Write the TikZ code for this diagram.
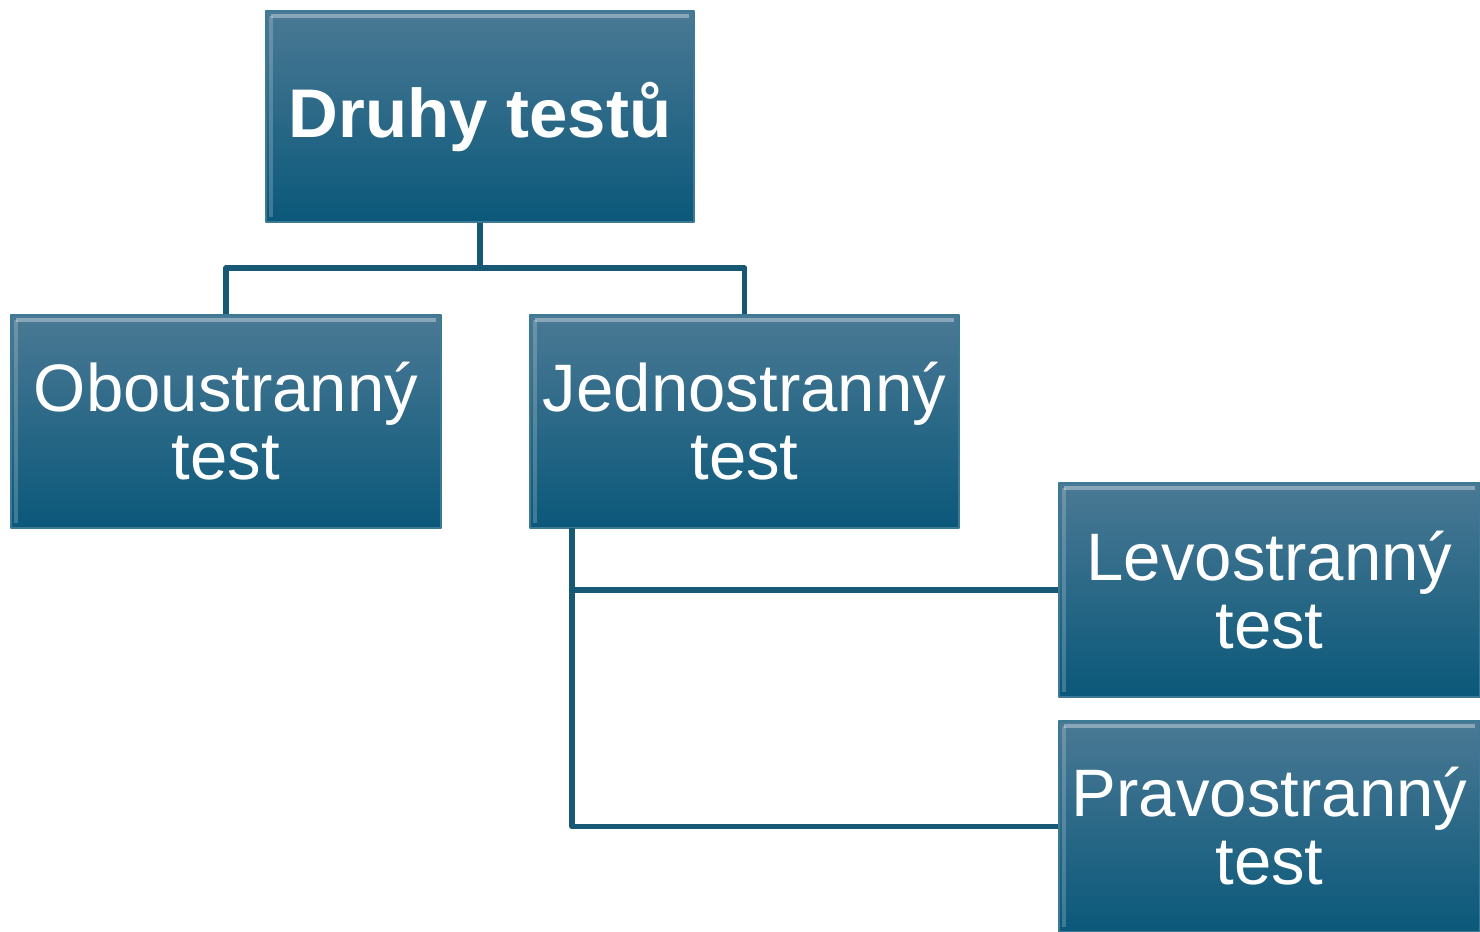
\documentclass[tikz,border=0pt]{standalone}
\usepackage{fontspec}
\setmainfont{Liberation Sans}
\definecolor{boxtop}{HTML}{4A7994}
\definecolor{boxmid}{HTML}{17658A}
\definecolor{boxbot}{HTML}{0B587A}
\definecolor{linkcol}{HTML}{175875}
\begin{document}
\begin{tikzpicture}[line join=round,
		box/.style={rectangle, inner sep=0pt, text=white, align=center,
			minimum height=2.12cm, top color=boxtop, middle color=boxmid, bottom color=boxbot,
			draw=boxbot!80!white, line width=0.6pt,
			font=\fontsize{19.1}{19.3}\selectfont,
			path picture={\draw[white,opacity=.35,line width=1.2pt]
				([shift={(0.05,-0.05)}]path picture bounding box.north west) -- ([shift={(-0.05,-0.05)}]path picture bounding box.north east);
				\draw[white,opacity=.2,line width=1pt]
				([shift={(0.05,-0.05)}]path picture bounding box.north west) -- ([shift={(0.05,0.05)}]path picture bounding box.south west);}},
		link/.style={draw=linkcol, line width=1.6pt}]
	\useasboundingbox (0,0) rectangle (14.8,-9.32);
	% boxes
	\node[box, minimum width=4.28cm, minimum height=2.11cm, font=\fontsize{19.6}{20}\selectfont\bfseries] (druhy) at (4.80,-1.165) {Druhy testů};
	\node[box, minimum width=4.30cm, minimum height=2.13cm] (obou) at (2.26,-4.215) {Oboustranný\\test};
	\node[box, minimum width=4.29cm, minimum height=2.13cm] (jedno) at (7.445,-4.215) {Jednostranný\\test};
	\node[box, minimum width=4.21cm, minimum height=2.14cm] (levo) at (12.695,-5.90) {Levostranný\\test};
	\node[box, minimum width=4.21cm, minimum height=2.11cm] (pravo) at (12.695,-8.265) {Pravostranný\\test};
	% connectors
	\coordinate (split) at (druhy.south |- 0,-2.68);
	\coordinate (stem) at (5.72,-5.28);
	\draw[link] (druhy.south) -- (split);
	\draw[link] (split) -| (obou.north);
	\draw[link] (split) -| (jedno.north);
	\draw[link] (stem) |- (levo.west);
	\draw[link] (stem) |- (pravo.west);
\end{tikzpicture}
\end{document}
